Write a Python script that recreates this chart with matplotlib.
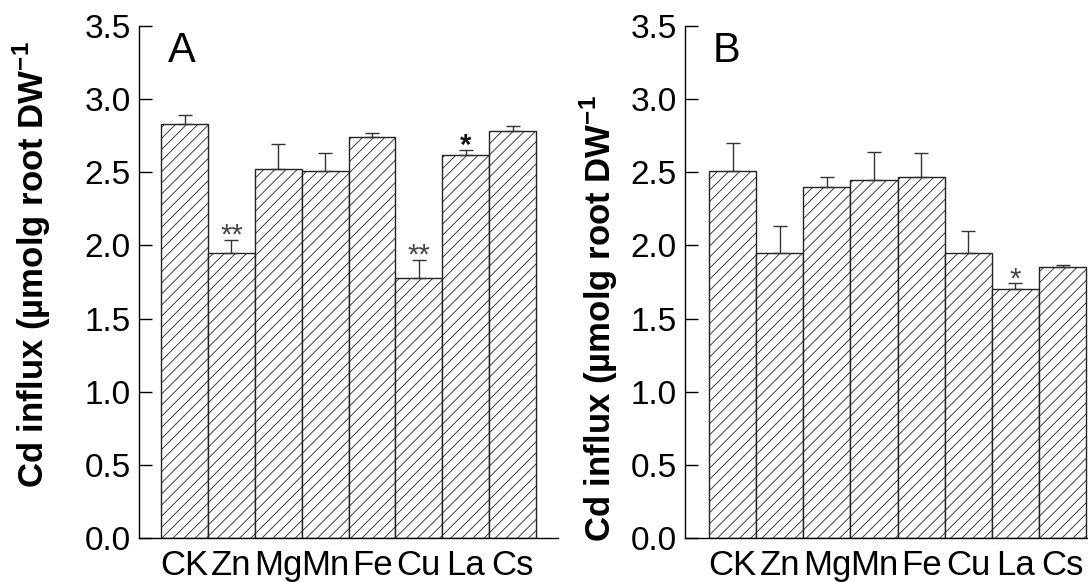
import numpy as np
import matplotlib
matplotlib.use('Agg')
import matplotlib.pyplot as plt

plt.rcParams['font.family'] = ['Liberation Sans', 'DejaVu Sans']
plt.rcParams['mathtext.fontset'] = 'custom'
plt.rcParams['mathtext.rm'] = 'Liberation Sans'
plt.rcParams['mathtext.bf'] = 'Liberation Sans:bold'
plt.rcParams['hatch.linewidth'] = 0.6

# data
labels = ['CK', 'Zn', 'Mg', 'Mn', 'Fe', 'Cu', 'La', 'Cs']
influx_A = [2.83, 1.95, 2.52, 2.51, 2.74, 1.78, 2.62, 2.78]
err_A = [0.06, 0.09, 0.17, 0.12, 0.03, 0.12, 0.03, 0.035]
sig_A = ['', '**', '', '', '', '**', '*', '']
influx_B = [2.51, 1.95, 2.40, 2.45, 2.47, 1.95, 1.70, 1.85]
err_B = [0.19, 0.18, 0.07, 0.19, 0.165, 0.15, 0.04, 0.016]
sig_B = ['', '', '', '', '', '', '*', '']

W, H = 1088, 582
fig = plt.figure(figsize=(W/100., H/100.), dpi=100)

def px_axes(left, right, top, bottom):
    return fig.add_axes([left/W, (H-bottom)/H, (right-left)/W, (bottom-top)/H])

def panel(ax, vals, errs, sigs, letter, xlim, bold_star):
    x = np.arange(len(vals))
    ax.bar(x, vals, width=1.0, color='white', edgecolor='#222222',
           linewidth=1.0, hatch='///', zorder=2)
    ax.errorbar(x, vals, yerr=[np.zeros(len(errs)), errs], fmt='none',
                ecolor='#333333', elinewidth=1.0, capsize=5, capthick=1.0, zorder=3)
    for xi, v, e, s in zip(x, vals, errs, sigs):
        if not s:
            continue
        bold = bold_star and s == '*'
        ax.annotate(s, (xi, v + e), xytext=(0, -7), textcoords='offset points',
                    ha='center', va='bottom', fontsize=21,
                    fontweight='bold' if bold else 'normal',
                    color='#111111' if bold else '#444444')
    ax.set_xlim(xlim)
    ax.set_ylim(0, 3.5)
    ax.set_yticks(np.arange(0, 3.51, 0.5))
    ax.set_yticklabels(['%.1f' % t for t in np.arange(0, 3.51, 0.5)])
    ax.set_xticks(x)
    ax.set_xticklabels(labels)
    ax.tick_params(axis='y', direction='in', length=9, width=1, labelsize=24, pad=6)
    ax.tick_params(axis='x', length=0, labelsize=25, pad=8)
    for sp in ['top', 'right']:
        ax.spines[sp].set_visible(False)
    for sp in ['left', 'bottom']:
        ax.spines[sp].set_linewidth(1.0)
    ax.text(0.068, 0.93, letter, transform=ax.transAxes, fontsize=30,
            ha='left', va='baseline')

axA = px_axes(139, 558, 26, 538)
panel(axA, influx_A, err_A, sig_A, 'A', (-0.974, 7.97), True)

axB = px_axes(685, 1088, 26, 538)
panel(axB, influx_B, err_B, sig_B, 'B', (-1.01, 7.54), False)

ylab = 'Cd influx (\u00b5molg root DW$^{\\mathbf{-1}}$'
fig.text(32/W, (H-265)/H, ylab, rotation=90, fontsize=25, fontweight='bold',
         ha='center', va='center')
fig.text(599/W, (H-319)/H, ylab, rotation=90, fontsize=25, fontweight='bold',
         ha='center', va='center')

plt.savefig('out.png', dpi=100)
plt.close()
